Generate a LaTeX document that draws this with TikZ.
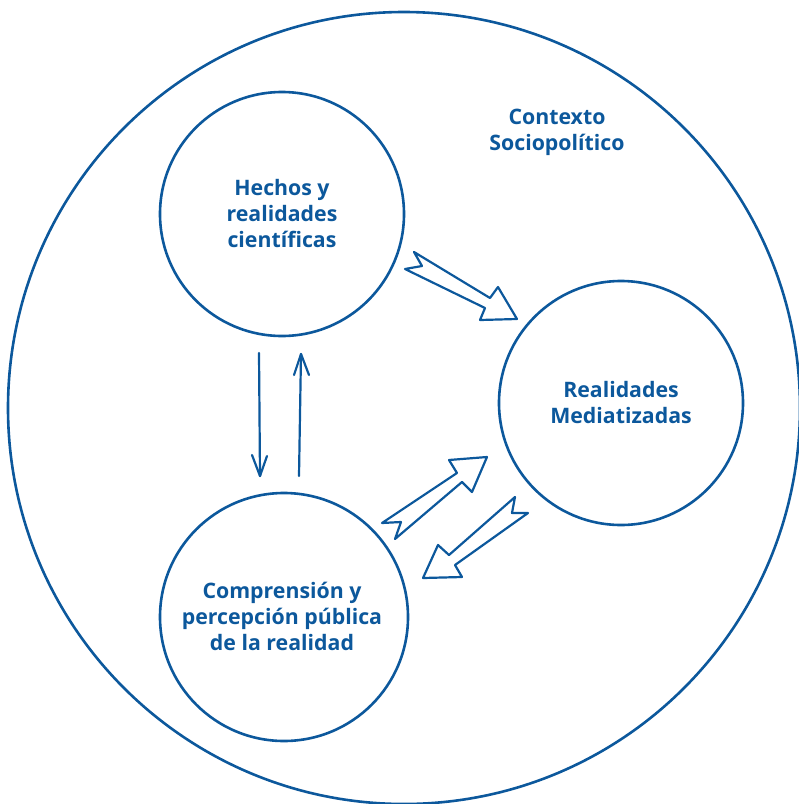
\documentclass[tikz,border=0pt]{standalone}
\usepackage{fontspec}
\setmainfont{Open Sans}
\begin{document}
\begin{tikzpicture}[x=1pt,y=-1pt,
  ink/.style={draw=dblue,line width=2.6pt},
  thin ink/.style={draw=dblue,line width=2.2pt,line join=round,line cap=round},
  label/.style={text=dblue,font=\fontsize{21.3}{26}\selectfont\bfseries,align=center},
  ring/.style={ink,circle,minimum size=244pt,inner sep=0pt}]
\definecolor{dblue}{RGB}{12,88,156}
\useasboundingbox (0,0) rectangle (799,804);

% outer context circle
\node[ring,minimum size=792pt] (ctx) at (404,408) {};
\node[label] (ctxlabel) at (557,132) {Contexto\\Sociopolítico};

% the three inner circles
\node[ring] (hechos) at (282,214) {};
\node[label] at (hechos) {Hechos y\\realidades\\científicas};
\node[ring] (medios) at (621,403) {};
\node[label] at (medios) {Realidades\\Mediatizadas};
\node[ring,minimum size=248pt] (publico) at (284,617) {};
\node[label] at (282,616) {Comprensión y\\percepción pública\\de la realidad};

% vertical line arrows between facts and perception
\coordinate (d1) at (259,353);
\coordinate (d2) at (260,476);
\draw[thin ink] (d1) -- (d2);
\draw[thin ink] (252,455) -- (d2) -- (267,456);
\coordinate (u1) at (299,476);
\coordinate (u2) at (301,354);
\draw[thin ink] (u1) -- (u2);
\draw[thin ink] (294,375) -- (u2) -- (309,375);

% hollow block arrows
\draw[thin ink] (414,252) -- (490,298) -- (498,287) -- (517,319) -- (480,320)
  -- (485,308) -- (405,269) -- (422,266) -- cycle;
\draw[thin ink] (487,457) -- (449,460) -- (457,473) -- (382,523) -- (401,522)
  -- (395,539) -- (462,482) -- (472,492) -- cycle;
\draw[thin ink] (423,578) -- (438,545) -- (449,555) -- (515,497) -- (512,513)
  -- (528,513) -- (455,565) -- (462,577) -- cycle;
\end{tikzpicture}
\end{document}
